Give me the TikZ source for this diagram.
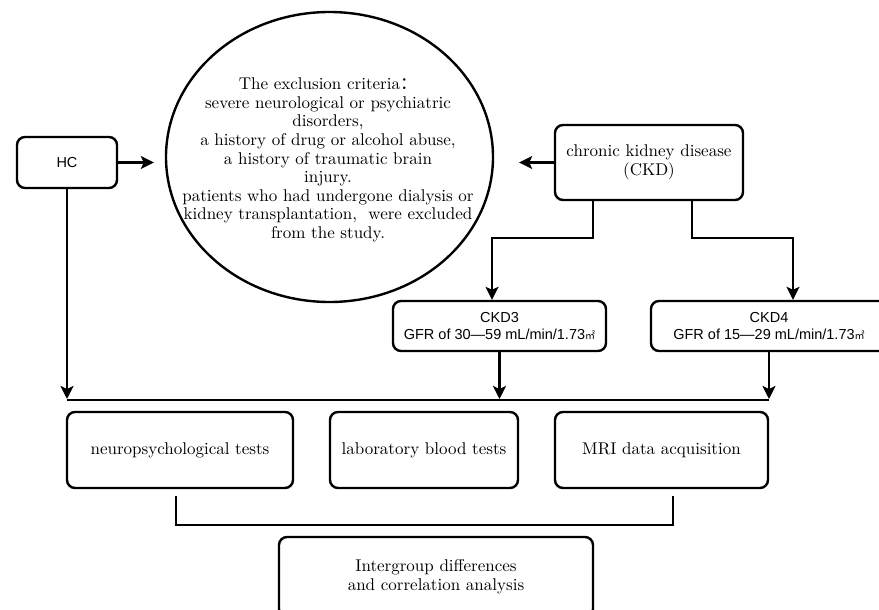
\documentclass[tikz,border=0pt]{standalone}
\usepackage{fontspec}
\usepackage{tikz}
\usetikzlibrary{shapes.geometric, arrows.meta, positioning, calc}
\setmainfont{lmroman10-regular.otf}
\newfontfamily\arialfont{Liberation Sans}
\newfontfamily\cjkfont{Noto Sans CJK SC}
\newcommand\msq{{\cjkfont\fontsize{10}{10}\selectfont ㎡}}
\definecolor{mydark}{RGB}{0,0,0}
\tikzset{
  block/.style={rectangle, draw=mydark, fill=white, align=center,
    rounded corners=8pt, line width=2.4pt, inner sep=0pt,
    font=\fontsize{17}{19}\selectfont},
  sansblock/.style={block, font=\arialfont\fontsize{14.5}{16.5}\selectfont},
  arrow/.style={-{Stealth[length=13pt, width=13pt, inset=3pt]}, line width=2.4pt, color=mydark},
  line/.style={line width=2.4pt, color=mydark}
}
\begin{document}
\begin{tikzpicture}[x=1pt, y=-1pt]
  \useasboundingbox (0,0) rectangle (879,610);

  % Groups
  \node[sansblock, minimum width=100pt, minimum height=51pt] (hc) at (67,162.5) {HC};
  \node[block, minimum width=188pt, minimum height=75pt] (ckd) at (649,162.5) {chronic kidney disease\\(CKD)};
  \node[sansblock, minimum width=213pt, minimum height=50pt] (ckd3) at (499.5,326) {CKD3\\GFR of 30—59 mL/min/1.73\msq};
  \node[sansblock, minimum width=236pt, minimum height=50pt] (ckd4) at (769,326) {CKD4\\GFR of 15—29 mL/min/1.73\msq};

  % Exclusion criteria
  \node[ellipse, draw=mydark, line width=2.4pt, inner sep=0pt,
    minimum width=327pt, minimum height=290pt] (excl) at (329.5,157) {};
  \node[align=center, font=\fontsize{17}{18.6}\selectfont] (excltext) at (328,160)
    {The exclusion criteria{\cjkfont ：}\\
     severe neurological or psychiatric\\
     disorders,\\
     a history of drug or alcohol abuse,\\
     a history of traumatic brain\\
     injury.\\
     patients who had undergone dialysis or\\
     kidney transplantation,\ \ were excluded\\
     from the study.};

  % Measures
  \node[block, minimum width=226pt, minimum height=76pt] (neuro) at (180,450) {neuropsychological tests};
  \node[block, minimum width=188pt, minimum height=76pt] (blood) at (424,450) {laboratory blood tests};
  \node[block, minimum width=213pt, minimum height=76pt] (mri) at (661.5,450) {MRI data acquisition};
  \node[block, minimum width=314pt, minimum height=80pt] (analysis) at (436,577) {Intergroup differences\\and correlation analysis};

  % Helper points
  \coordinate (busL) at (67,400);
  \coordinate (busR) at (769,400);
  \coordinate (brL) at (176,496);
  \coordinate (brR) at (673,496);

  % Connections
  \draw[arrow, shorten >=11pt] (hc.east) -- (hc.east -| excl.west);
  \draw[arrow, shorten >=25pt] (ckd.west) -- (ckd.west -| excl.east);
  \draw[arrow] ([xshift=-56pt]ckd.south) -- ++(0,37) -| ([xshift=-7.5pt]ckd3.north);
  \draw[arrow] ([xshift=43pt]ckd.south) -- ++(0,37) -| ([xshift=24pt]ckd4.north);
  \draw[arrow, shorten >=1pt] (hc.south) -- (hc.south |- busL);
  \draw[arrow, shorten >=1pt] (ckd3.south) -- (ckd3.south |- busL);
  \draw[arrow, shorten >=1pt] (ckd4.south) -- (ckd4.south |- busR);
  \draw[line] (busL) -- (busR);
  \draw[line] (brL) -- ++(0,29) -| (brR);
\end{tikzpicture}
\end{document}
